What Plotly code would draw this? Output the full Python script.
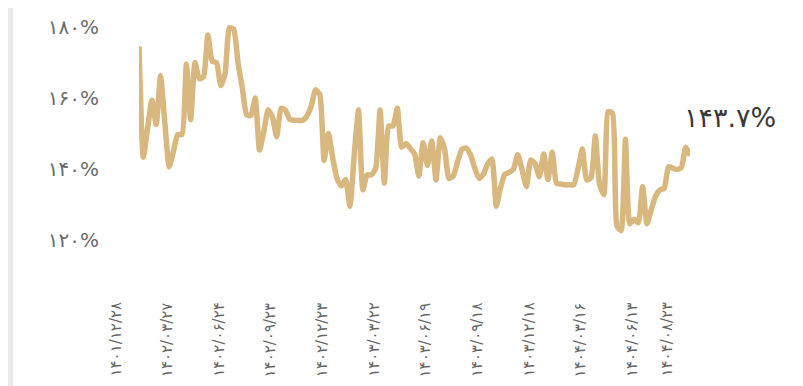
import plotly.graph_objects as go

# Ratio series (%), sampled at regular steps
values = [
    174.6, 143.3, 151.5, 159.4, 152.5, 166.3, 153.0, 140.6, 145.0, 149.7,
    149.7, 169.5, 153.9, 170.0, 165.4, 166.0, 177.8, 170.4, 170.0, 163.5,
    166.8, 179.8, 179.4, 170.0, 162.8, 155.3, 155.0, 160.0, 145.3, 150.6,
    156.6, 154.6, 149.1, 157.1, 156.6, 154.0, 153.7, 153.7, 153.7, 154.9,
    157.7, 162.3, 161.0, 142.4, 150.0, 143.1, 137.3, 135.2, 137.0, 129.5,
    144.0, 156.6, 134.1, 138.3, 138.3, 140.2, 156.6, 136.0, 152.1, 152.1,
    157.1, 146.1, 147.2, 145.8, 144.3, 138.0, 147.4, 141.0, 147.9, 136.9,
    148.8, 145.5, 137.3, 138.0, 142.0, 145.5, 145.9, 144.0, 140.2, 137.3,
    138.5, 141.4, 142.8, 129.5, 134.8, 138.5, 139.0, 140.0, 144.0, 139.7,
    135.0, 142.5, 141.5, 137.8, 144.2, 137.0, 144.7, 135.9, 135.7, 135.5,
    135.5, 135.5, 140.1, 145.6, 136.9, 137.5, 149.3, 135.5, 132.7, 156.2,
    155.7, 124.0, 122.6, 148.4, 124.5, 125.8, 124.8, 135.0, 124.5, 128.5,
    132.3, 134.1, 134.5, 140.6, 140.2, 139.8, 140.4, 146.1, 143.7,
]
x_idx = list(range(len(values)))

date_positions = [0, 12, 24, 36, 48, 60, 72, 84, 96, 108, 120, 128]
date_labels = [
    "۱۴۰۱/۱۲/۲۸", "۱۴۰۲/۰۳/۲۷", "۱۴۰۲/۰۶/۲۴", "۱۴۰۲/۰۹/۲۳",
    "۱۴۰۲/۱۲/۲۳", "۱۴۰۳/۰۳/۲۲", "۱۴۰۳/۰۶/۱۹", "۱۴۰۳/۰۹/۱۸",
    "۱۴۰۳/۱۲/۱۸", "۱۴۰۴/۰۳/۱۶", "۱۴۰۴/۰۶/۱۳", "۱۴۰۴/۰۸/۲۳",
]
y_tickvals = [120, 140, 160, 180]
y_ticktext = ["۱۲۰%", "۱۴۰%", "۱۶۰%", "۱۸۰%"]
last_label = "۱۴۳.۷%"

LINE = "#D8B87E"
FONT = "DejaVu Sans"

fig = go.Figure()
fig.add_trace(go.Scatter(
    x=x_idx, y=values, mode="lines",
    line=dict(color=LINE, width=5.5, shape="spline", smoothing=0.5),
    hoverinfo="skip", showlegend=False, cliponaxis=False,
))

W, H = 795, 378
ml, mr, mt, mb = 131, 113, 7, 132
pw = W - ml - mr
plot_h = H - mt - mb
fig.update_layout(
    width=W, height=H,
    margin=dict(l=ml, r=mr, t=mt, b=mb),
    paper_bgcolor="white", plot_bgcolor="white",
    font=dict(family=FONT, color="#666666"),
    xaxis=dict(range=[0, 128], showgrid=False, zeroline=False, showline=False,
               showticklabels=False, ticks=""),
    yaxis=dict(range=[116, 182], showgrid=False, zeroline=False, showline=False,
               tickvals=y_tickvals, ticktext=y_ticktext,
               tickfont=dict(size=20, color="#6b6b6b", family=FONT),
               ticks="outside", ticklen=35, tickcolor="rgba(0,0,0,0)"),
)

for pos, lab in zip(date_positions, date_labels):
    fig.add_annotation(
        x=pos, xref="x", y=0, yref="paper",
        text=lab, textangle=-90, showarrow=False,
        xanchor="center", yanchor="top", xshift=-24, yshift=-46,
        font=dict(size=15, color="#666666", family=FONT),
    )

fig.add_annotation(
    x=x_idx[-1], xref="x", y=values[-1], yref="y",
    text=last_label, showarrow=False, xanchor="left", yanchor="middle",
    xshift=-8, yshift=38, font=dict(size=27, color="#3a3a3a", family=FONT),
)

# left border strip of the card
fig.add_shape(type="rect", xref="paper", yref="paper",
              x0=(0 - ml) / pw, x1=(5 - ml) / pw,
              y0=-(mb + 10) / plot_h, y1=(plot_h + mt + 10) / plot_h,
              fillcolor="#ebebeb", line=dict(width=0), layer="below")

fig.write_html("out.html")
